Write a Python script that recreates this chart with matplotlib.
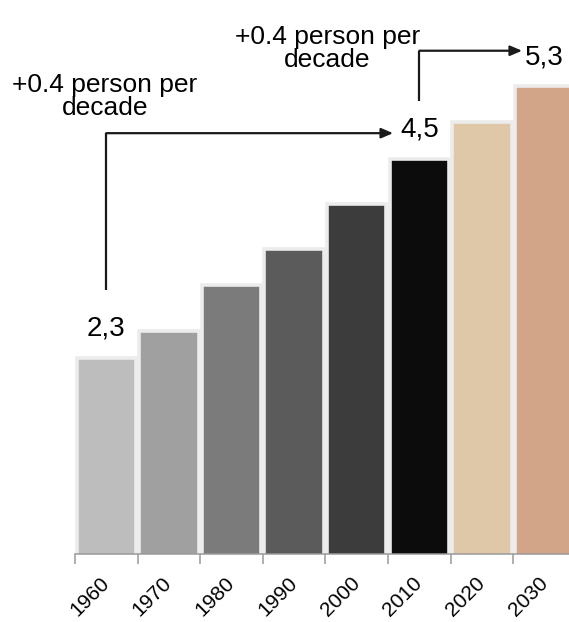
import matplotlib
matplotlib.use("Agg")
import matplotlib.pyplot as plt
from matplotlib import font_manager

years = ["1960", "1970", "1980", "1990", "2000", "2010", "2020", "2030"]
values = [2.3, 2.6, 3.1, 3.5, 4.0, 4.5, 4.9, 5.3]
colors = ["#bdbdbd", "#a0a0a0", "#7b7b7b", "#5b5b5b",
          "#3c3c3c", "#0c0c0c", "#dfc8a8", "#d2a488"]
labelled = {0: "2,3", 5: "4,5", 7: "5,3"}
note = "+0.4 person per\ndecade"


def pick_font():
    names = {f.name for f in font_manager.fontManager.ttflist}
    for name in ["Liberation Sans Narrow", "Arial Narrow", "Liberation Sans"]:
        if name in names:
            return name
    return "DejaVu Sans"


def main():
    plt.rcParams["font.family"] = [pick_font(), "DejaVu Sans"]

    fig = plt.figure(figsize=(5.69, 6.22), dpi=100)
    ax = fig.add_axes([0.1318, 0.1101, 0.8682, 0.8899])

    x = list(range(len(years)))
    ax.bar(x, values, width=0.95, color=colors, edgecolor="#ececec",
           linewidth=2.6, zorder=2)

    ax.set_xlim(-0.5, 7.39)
    ax.set_ylim(0.14, 6.25)

    # value labels above selected bars
    for i, txt in labelled.items():
        ax.text(x[i], values[i] + 0.32, txt, ha="center", va="center",
                fontsize=20, color="black", clip_on=False)

    # elbow arrows between labelled bars
    arrow = dict(arrowstyle="-|>,head_length=0.7,head_width=0.3",
                 lw=1.6, color="#1a1a1a", shrinkA=0, shrinkB=0)
    ax.plot([x[0], x[0]], [values[0] + 0.75, values[5] + 0.28],
            color="#1a1a1a", lw=1.6, solid_capstyle="butt", clip_on=False)
    ax.annotate("", xy=(x[5] - 0.42, values[5] + 0.28),
                xytext=(x[0], values[5] + 0.28), arrowprops=arrow,
                annotation_clip=False)
    ax.plot([x[5], x[5]], [values[5] + 0.63, values[7] + 0.39],
            color="#1a1a1a", lw=1.6, solid_capstyle="butt", clip_on=False)
    ax.annotate("", xy=(x[7] - 0.36, values[7] + 0.39),
                xytext=(x[5], values[7] + 0.39), arrowprops=arrow,
                annotation_clip=False)

    ax.text(-0.02, 5.19, note, ha="center", va="center", fontsize=19,
            linespacing=0.95, clip_on=False)
    ax.text(3.53, 5.71, note, ha="center", va="center", fontsize=19,
            linespacing=0.95, clip_on=False)

    # axes styling: only a grey baseline with ticks between the bars
    for side in ["left", "top", "right"]:
        ax.spines[side].set_visible(False)
    ax.spines["bottom"].set_color("#9a9a9a")
    ax.spines["bottom"].set_linewidth(1.1)
    ax.set_yticks([])
    ax.set_xticks(x)
    ax.set_xticklabels(years, rotation=45, ha="right", va="center",
                       rotation_mode="anchor", fontsize=15)
    ax.tick_params(axis="x", which="major", length=0, pad=19)
    ax.set_xticks([i - 0.5 for i in x], minor=True)
    ax.tick_params(axis="x", which="minor", length=7, width=1.1,
                   color="#9a9a9a")

    fig.savefig("out.png", dpi=100)


if __name__ == "__main__":
    main()
